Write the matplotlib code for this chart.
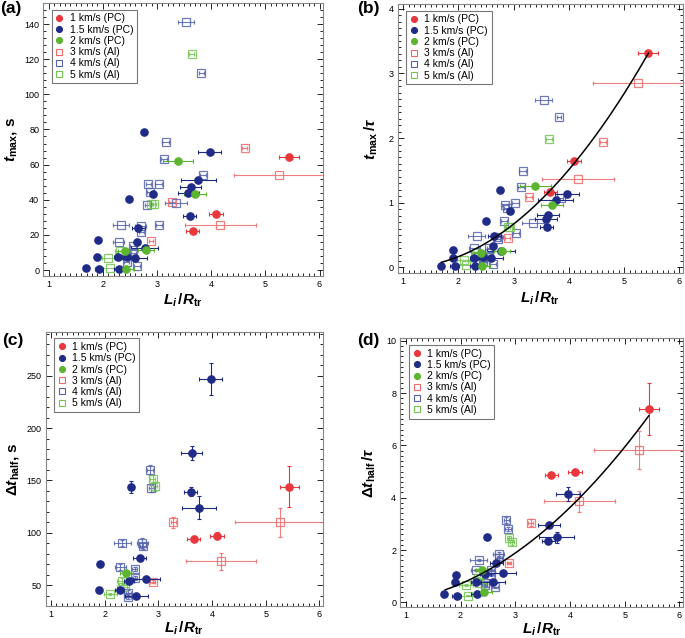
import numpy as np
import matplotlib.pyplot as plt
from matplotlib.lines import Line2D
from matplotlib.ticker import MultipleLocator

plt.rcParams['font.family'] = ['Liberation Sans', 'DejaVu Sans']
plt.rcParams['mathtext.fontset'] = 'custom'
plt.rcParams['mathtext.rm'] = 'Liberation Sans:bold'
plt.rcParams['mathtext.it'] = 'Liberation Sans:bold:italic'
plt.rcParams['mathtext.bf'] = 'Liberation Sans:bold'

nan = np.nan

# ---- 1 km/s (PC) ----
x_pc1 = [3.66, 4.09, 5.44]
xerr_pc1 = [0.12, 0.13, 0.18]
tmax_pc1 = [22.1, 31.8, 64.2]
tmaxn_pc1 = [1.16, 1.65, 3.32]
dth_pc1 = [94.5, 97.4, 144.2]
dth_err_pc1 = [2, 3, 20]
dthn_pc1 = [4.86, 5.0, 7.4]
dthn_err_pc1 = [0.08, 0.1, 1.0]

# ---- 1.5 km/s (PC) ----
x_pc15 = [1.69, 1.93, 1.91, 1.90, 2.30, 2.28, 2.45, 2.59, 2.63, 2.65,
          2.49, 2.76, 2.93, 2.77, 3.60, 3.62, 3.58, 3.76, 3.97]
xerr_pc15 = [0.03, 0.08, 0.03, 0.03, 0.1, 0.08, 0.1, 0.22, 0.05, 0.12,
             0.02, 0.03, 0.05, 0.25, 0.12, 0.2, 0.2, 0.32, 0.22]
tmax_pc15 = [1.3, 0.6, 17.3, 7.2, 0.8, 7.6, 7.6, 7.0, 16.0, 24.0,
             40.4, 78.7, 43.4, 12.8, 30.5, 47.4, 43.8, 51.4, 67.2]
tmaxn_pc15 = [0.03, 0.02, 0.27, 0.14, 0.03, 0.15, 0.16, 0.15, 0.33, 0.49,
              0.72, 1.2, 0.88, 0.26, 0.62, 0.81, 0.75, 1.04, 1.14]
dth_pc15 = [nan, nan, 70.6, 45.5, nan, 45.5, 54.4, 39.8, nan, 75.8,
            143.6, nan, nan, 56.3, 139.4, 176.1, nan, 123.9, 246.8]
dth_err_pc15 = [0, 0, 1, 1, 0, 1, 2, 2, 0, 2,
                6, 0, 0, 2, 4, 7, 0, 11, 15]
dthn_pc15 = [0.33, 0.24, 1.04, 0.78, 0.31, 0.78, 1.1, 0.78, nan, 1.52,
             2.51, nan, nan, 1.12, 2.33, 2.95, nan, 2.48, 4.14]
dthn_err_pc15 = [0.02, 0.03, 0.02, 0.02, 0.02, 0.02, 0.03, 0.05, 0, 0.05,
                 0.05, 0, 0, 0.05, 0.05, 0.05, 0, 0.2, 0.25]

# ---- 2 km/s (PC) ----
x_pc2 = [2.40, 2.43, 2.79, 3.39, 3.70]
xerr_pc2 = [0.12, 0.15, 0.15, 0.28, 0.2]
tmax_pc2 = [10.9, 0.4, 11.4, 62.3, 43.2]
tmaxn_pc2 = [0.22, 0.02, 0.26, 1.26, 0.97]
dth_pc2 = [61.5, nan, nan, nan, nan]
dth_err_pc2 = [2, 0, 0, 0, 0]
dthn_pc2 = [1.24, 0.39, nan, nan, nan]
dthn_err_pc2 = [0.03, 0.02, 0, 0, 0]

# ---- 3 km/s (Al) ----
x_al3 = [2.89, 3.28, 4.17, 4.62, 5.26]
xerr_al3 = [0.04, 0.05, 0.65, 0.05, 0.83]
tmax_al3 = [16.4, 38.6, 25.5, 69.2, 53.8]
tmaxn_al3 = [0.46, 1.09, 1.37, 1.94, 2.85]
dth_al3 = [53.5, 110, 73, nan, 110]
dth_err_al3 = [1.5, 5, 8, 0, 14]
dthn_al3 = [1.5, 3.05, 3.86, nan, 5.82]
dthn_err_al3 = [0.05, 0.12, 0.4, 0, 0.73]

# ---- 4 km/s (Al) ----
x_al4 = [3.54, 3.82, 3.16, 3.13, 2.84, 3.03, 2.87, 3.85, 2.82, 3.35,
         3.04, 2.33, 2.70, 2.71, 2.29, 2.56, 2.56, 2.44, 2.44, 2.63]
xerr_al4 = [0.15, 0.04, 0.06, 0.05, 0.05, 0.06, 0.05, 0.05, 0.05, 0.2,
            0.06, 0.15, 0.1, 0.05, 0.1, 0.05, 0.05, 0.05, 0.05, 0.05]
tmax_al4 = [141.3, 112, 72.8, 62.9, 49.0, 49.0, 44.6, 53.9, 36.8, 38.1,
            25.7, 25.7, 24.8, 21.9, 16.2, 13.7, 9.9, 8.6, 4.8, 2.5]
tmaxn_al4 = [2.59, 2.33, 1.49, 1.24, 0.97, 0.99, 0.92, 1.07, 0.72, 0.69,
             0.53, 0.48, 0.47, 0.44, 0.30, 0.30, 0.22, 0.15, 0.10, 0.05]
dth_al4 = [nan, nan, nan, nan, 160.2, nan, 142.4, nan, nan, nan,
           nan, 90.1, 90.1, 87.6, 67.5, 65.3, 56.7, 43.0, 39.2, nan]
dth_err_al4 = [0, 0, 0, 0, 5, 0, 3, 0, 0, 0,
               0, 3, 5, 3, 3, 2, 2, 2, 2, 0]
dthn_al4 = [nan, nan, nan, nan, 3.15, nan, 2.80, nan, nan, nan,
            nan, 1.62, 1.85, 1.68, 1.24, 1.24, 1.04, 0.75, 0.65, 0.57]
dthn_err_al4 = [0, 0, 0, 0, 0.1, 0, 0.08, 0, 0, 0,
                0, 0.05, 0.08, 0.05, 0.05, 0.05, 0.04, 0.04, 0.04, 0.03]

# ---- 5 km/s (Al) ----
x_al5 = [3.64, 2.89, 2.94, 2.32, 2.34, 2.10, 2.14]
xerr_al5 = [0.05, 0.04, 0.04, 0.1, 0.12, 0.12, 0.15]
tmax_al5 = [122.9, 37.3, 37.3, 10.8, 8.6, 6.8, 1.2]
tmaxn_al5 = [1.99, 0.63, 0.62, 0.22, 0.17, 0.12, 0.04]
dth_al5 = [nan, 151.6, 144.3, 54.5, 48.7, 41.4, nan]
dth_err_al5 = [0, 4, 4, 2, 2, 1, 0]
dthn_al5 = [nan, 2.45, 2.29, 0.92, 0.73, 0.66, 0.25]
dthn_err_al5 = [0, 0.08, 0.08, 0.04, 0.04, 0.03, 0.02]

# fitted curves y = k (x - x0)^2 drawn in (b) and (d)
fit_b = (0.168, 1.0, 1.69, 5.44)
fit_d = (0.283, 0.42, 1.72, 5.44)

labels = ['1 km/s (PC)', '1.5 km/s (PC)', '2 km/s (PC)',
          '3 km/s (Al)', '4 km/s (Al)', '5 km/s (Al)']
colors = ['#e8383d', '#1f2b86', '#5cb52f', '#ee6a6a', '#5563ad', '#74c552']
filled = [True, True, True, False, False, False]

xs = [x_pc1, x_pc15, x_pc2, x_al3, x_al4, x_al5]
xerrs = [xerr_pc1, xerr_pc15, xerr_pc2, xerr_al3, xerr_al4, xerr_al5]
ya = [tmax_pc1, tmax_pc15, tmax_pc2, tmax_al3, tmax_al4, tmax_al5]
yb = [tmaxn_pc1, tmaxn_pc15, tmaxn_pc2, tmaxn_al3, tmaxn_al4, tmaxn_al5]
yc = [dth_pc1, dth_pc15, dth_pc2, dth_al3, dth_al4, dth_al5]
yc_err = [dth_err_pc1, dth_err_pc15, dth_err_pc2, dth_err_al3, dth_err_al4, dth_err_al5]
yd = [dthn_pc1, dthn_pc15, dthn_pc2, dthn_al3, dthn_al4, dthn_al5]
yd_err = [dthn_err_pc1, dthn_err_pc15, dthn_err_pc2, dthn_err_al3, dthn_err_al4, dthn_err_al5]

fig = plt.figure(figsize=(6.85, 6.38), dpi=100)
ax_a = fig.add_axes([0.0632, 0.5674, 0.408, 0.428])
ax_b = fig.add_axes([0.5806, 0.5716, 0.416, 0.422])
ax_c = fig.add_axes([0.0667, 0.0502, 0.4044, 0.430])
ax_d = fig.add_axes([0.5844, 0.0481, 0.4123, 0.4216])


def draw(ax, ys, yerrs=None, xpad=2):
    # open squares first, filled circles on top
    for i in [3, 4, 5, 0, 1, 2]:
        yerr = None if yerrs is None else yerrs[i]
        if filled[i]:
            ax.errorbar(xs[i], ys[i], xerr=xerrs[i], yerr=yerr, fmt='o', ms=5.2,
                        color=colors[i], mec=colors[i], elinewidth=0.8,
                        capsize=1.5, capthick=0.8, zorder=3)
        else:
            ax.errorbar(xs[i], ys[i], xerr=xerrs[i], yerr=yerr, fmt='s', ms=5.6,
                        color=colors[i], mfc='none', mew=0.9, alpha=0.85,
                        elinewidth=0.8, capsize=1.5, capthick=0.8, zorder=2)
    handles = []
    for i in range(6):
        handles.append(Line2D([], [], ls='none', marker='o' if filled[i] else 's',
                              ms=4.3, color=colors[i],
                              mfc=colors[i] if filled[i] else 'none', mew=0.8))
    leg = ax.legend(handles, labels, loc='upper left', bbox_to_anchor=(0.03, 0.975),
                    borderaxespad=0, fontsize=7.5, handlelength=0.8,
                    handletextpad=0.6, borderpad=0.35, labelspacing=0.12,
                    fancybox=False, framealpha=1)
    leg.get_frame().set_edgecolor('#777777')
    leg.get_frame().set_linewidth(0.8)
    ax.set_xlim(0.9, 6.06)
    ax.xaxis.set_major_locator(MultipleLocator(1))
    ax.xaxis.set_minor_locator(MultipleLocator(0.1))
    ax.tick_params(which='both', direction='in', top=True, right=True,
                   labelsize=6.5, width=0.6, pad=3)
    ax.tick_params(which='major', length=4)
    ax.tick_params(which='minor', length=2)
    for s in ax.spines.values():
        s.set_color('#888888')
        s.set_linewidth(0.8)
    ax.set_xlabel(r'$L_i\,/R_{\rm tr}$', fontsize=11, labelpad=xpad)


draw(ax_a, ya)
ax_a.set_ylim(-3.4, 152)
ax_a.yaxis.set_major_locator(MultipleLocator(20))
ax_a.yaxis.set_minor_locator(MultipleLocator(4))
ax_a.set_ylabel(r'$t_{\rm max}$, s', fontsize=11, fontweight='bold', labelpad=4)

draw(ax_b, yb)
xf = np.linspace(fit_b[2], fit_b[3], 200)
ax_b.plot(xf, fit_b[0] * (xf - fit_b[1]) ** 2, color='black', lw=1.1, zorder=4)
ax_b.set_ylim(-0.09, 4.07)
ax_b.yaxis.set_major_locator(MultipleLocator(1))
ax_b.yaxis.set_minor_locator(MultipleLocator(0.1))
ax_b.set_ylabel(r'$t_{\rm max}\,/\tau$', fontsize=11, labelpad=6)

draw(ax_c, yc, yc_err, xpad=0)
ax_c.set_ylim(30.2, 292)
ax_c.yaxis.set_major_locator(MultipleLocator(50))
ax_c.yaxis.set_minor_locator(MultipleLocator(10))
ax_c.set_ylabel(r'$\mathit{\Delta t}_{\rm half}$, s', fontsize=11, fontweight='bold', labelpad=4)

draw(ax_d, yd, yd_err, xpad=0)
xf = np.linspace(fit_d[2], fit_d[3], 200)
ax_d.plot(xf, fit_d[0] * (xf - fit_d[1]) ** 2, color='black', lw=1.1, zorder=4)
ax_d.set_ylim(-0.19, 10.09)
ax_d.yaxis.set_major_locator(MultipleLocator(2))
ax_d.yaxis.set_minor_locator(MultipleLocator(0.2))
ax_d.set_ylabel(r'$\mathit{\Delta t}_{\rm half}\,/\tau$', fontsize=11, labelpad=6)

for txt, (px, py) in zip(['(a)', '(b)', '(c)', '(d)'],
                         [(0.0, 0.998), (0.522, 0.998), (0.003, 0.478), (0.522, 0.478)]):
    fig.text(px, py, txt, fontsize=12.5, fontweight='bold', va='top', ha='left')

fig.savefig('out.png', dpi=100)
